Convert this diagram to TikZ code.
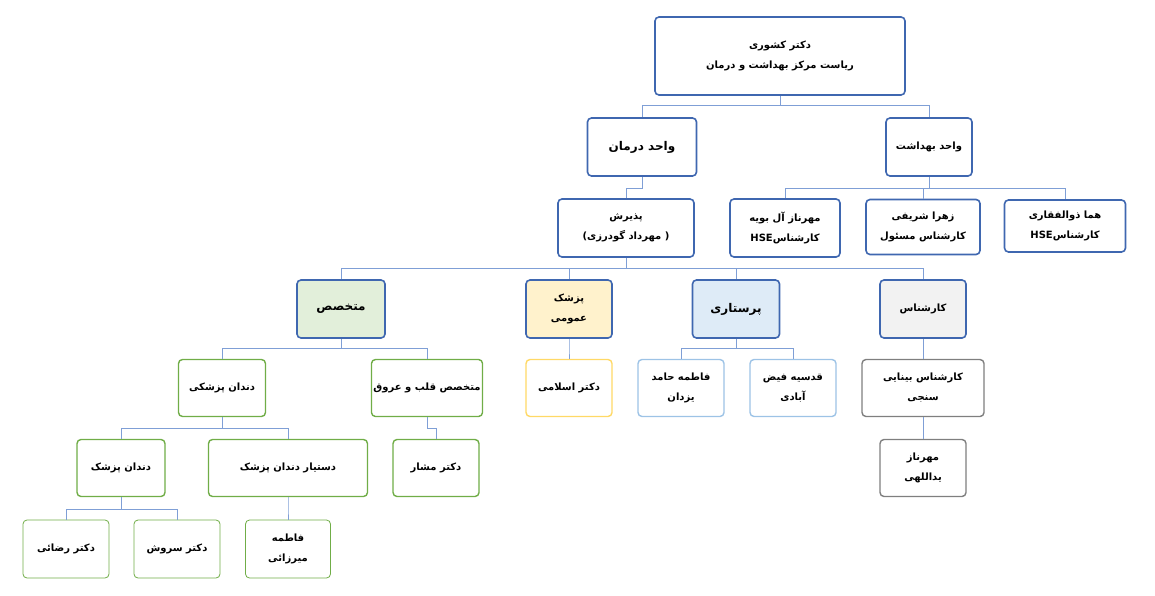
\documentclass[tikz,border=0pt]{standalone}
\usepackage{fontspec}
\newfontfamily\arabicfont[Script=Arabic]{DejaVu Sans}
\TeXXeTstate=1
\usetikzlibrary{positioning}
\definecolor{mainblue}{HTML}{3F67B0}
\definecolor{linkblue}{HTML}{7F9FD6}
\definecolor{boxgreen}{HTML}{70AD47}
\definecolor{boxyellow}{HTML}{FFD966}
\definecolor{boxlight}{HTML}{9DC3E6}
\definecolor{boxgray}{HTML}{7F7F7F}
\newcommand{\fa}[1]{\beginR #1\endR}
\tikzset{
  orgbox/.style={draw, rounded corners=4pt, align=center, inner sep=2pt,
    font=\arabicfont\bfseries\fontsize{10}{20}\selectfont, fill=white},
  bluebox/.style={orgbox, draw=mainblue, line width=1.6pt},
  greenbox/.style={orgbox, draw=boxgreen, line width=1.4pt},
  yellowbox/.style={orgbox, draw=boxyellow, line width=1.4pt},
  lightbox/.style={orgbox, draw=boxlight, line width=1.4pt},
  graybox/.style={orgbox, draw=boxgray, line width=1.4pt},
  bigtext/.style={font=\arabicfont\bfseries\fontsize{12}{20}\selectfont},
  conn/.style={draw=linkblue, line width=1pt},
}
\newcommand{\link}[3]{\draw[conn] (#1.south) |- ++(0,#3) -| (#2.north);}
\begin{document}
\begin{tikzpicture}[x=1pt, y=-1pt]
  \useasboundingbox (0,0) rectangle (1155,596);
  % level 0 and 1
  \node[bluebox, minimum width=250pt, minimum height=78pt] (top) at (780,56) {\fa{دکتر کشوری}\\ \fa{ریاست مرکز بهداشت و درمان}};
  \node[bluebox, bigtext, minimum width=109pt, minimum height=58pt] (darman) at (642,147) {\fa{واحد درمان}};
  \node[bluebox, minimum width=86pt, minimum height=58pt] (behdasht) at (929,147) {\fa{واحد بهداشت}};
  % level 2
  \node[bluebox, minimum width=136pt, minimum height=58pt] (paziresh) at (626,228) {\fa{پذیرش}\\ \fa{( مهرداد گودرزی)}};
  \node[bluebox, minimum width=110pt, minimum height=58pt] (alebouyeh) at (785,228) {\fa{مهرناز آل بویه}\\ \fa{کارشناس\beginL HSE\endL}};
  \node[bluebox, minimum width=114pt, minimum height=55pt] (sharifi) at (923,227) {\fa{زهرا شریفی}\\ \fa{کارشناس مسئول}};
  \node[bluebox, minimum width=121pt, minimum height=52pt] (zolfaghari) at (1065,226) {\fa{هما ذوالفقاری}\\ \fa{کارشناس\beginL HSE\endL}};
  % level 3
  \node[bluebox, bigtext, fill={rgb,255:red,226;green,239;blue,218}, minimum width=88pt, minimum height=58pt] (motekhases) at (341,309) {\fa{متخصص}};
  \node[bluebox, fill={rgb,255:red,255;green,242;blue,204}, minimum width=86pt, minimum height=58pt] (omoomi) at (569,309) {\fa{پزشک}\\ \fa{عمومی}};
  \node[bluebox, bigtext, fill={rgb,255:red,222;green,235;blue,247}, minimum width=87pt, minimum height=58pt] (parastari) at (736,309) {\fa{پرستاری}};
  \node[bluebox, fill={rgb,255:red,242;green,242;blue,242}, minimum width=86pt, minimum height=58pt] (karshenas) at (923,309) {\fa{کارشناس}};
  % level 4
  \node[greenbox, minimum width=87pt, minimum height=57pt] (dandan) at (222,388) {\fa{دندان پزشکی}};
  \node[greenbox, minimum width=108pt, minimum height=57pt] (ghalb) at (427,388) {\fa{متخصص قلب و عروق}};
  \node[yellowbox, minimum width=86pt, minimum height=57pt] (eslami) at (569,388) {\fa{دکتر اسلامی}};
  \node[lightbox, minimum width=86pt, minimum height=57pt] (hamed) at (681,388) {\fa{فاطمه حامد}\\ \fa{یزدان}};
  \node[lightbox, minimum width=86pt, minimum height=57pt] (feyz) at (793,388) {\fa{قدسیه فیض}\\ \fa{آبادی}};
  \node[graybox, minimum width=122pt, minimum height=57pt] (binayi) at (923,388) {\fa{کارشناس بینایی}\\ \fa{سنجی}};
  % level 5
  \node[greenbox, minimum width=88pt, minimum height=57pt] (pezeshk) at (121,468) {\fa{دندان پزشک}};
  \node[greenbox, minimum width=159pt, minimum height=57pt] (dastyar) at (288,468) {\fa{دستیار دندان پزشک}};
  \node[greenbox, minimum width=86pt, minimum height=57pt] (moshar) at (436,468) {\fa{دکتر مشار}};
  \node[graybox, minimum width=86pt, minimum height=57pt] (yadollahi) at (923,468) {\fa{مهرناز}\\ \fa{یداللهی}};
  % level 6
  \node[greenbox, line width=0.8pt, minimum width=86pt, minimum height=58pt] (rezaei) at (66,549) {\fa{دکتر رضائی}};
  \node[greenbox, line width=0.8pt, minimum width=86pt, minimum height=58pt] (soroush) at (177,549) {\fa{دکتر سروش}};
  \node[greenbox, line width=0.8pt, minimum width=85pt, minimum height=58pt] (mirzaei) at (288,549) {\fa{فاطمه}\\ \fa{میرزائی}};
  % connectors
  \link{top}{darman}{10}
  \link{top}{behdasht}{10}
  \link{behdasht}{alebouyeh}{12}
  \link{behdasht}{sharifi}{12}
  \link{behdasht}{zolfaghari}{12}
  \link{darman}{paziresh}{12}
  \link{paziresh}{motekhases}{11}
  \link{paziresh}{omoomi}{11}
  \link{paziresh}{parastari}{11}
  \link{paziresh}{karshenas}{11}
  \link{motekhases}{dandan}{10}
  \link{motekhases}{ghalb}{10}
  \link{omoomi}{eslami}{11}
  \link{parastari}{hamed}{10}
  \link{parastari}{feyz}{10}
  \link{karshenas}{binayi}{11}
  \link{dandan}{pezeshk}{11}
  \link{dandan}{dastyar}{11}
  \link{ghalb}{moshar}{11}
  \link{binayi}{yadollahi}{11}
  \link{pezeshk}{rezaei}{12}
  \link{pezeshk}{soroush}{12}
  \link{dastyar}{mirzaei}{12}
\end{tikzpicture}
\end{document}
